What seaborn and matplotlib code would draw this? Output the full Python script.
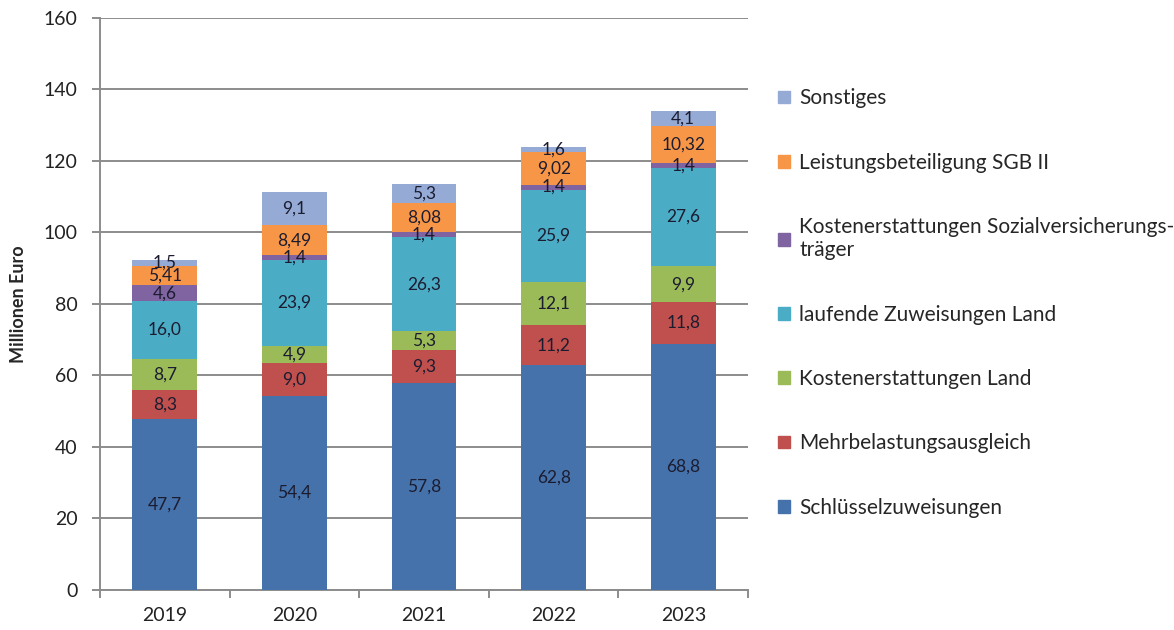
import numpy as np
import pandas as pd
import seaborn as sns
import matplotlib.pyplot as plt
import matplotlib.patches as mpatches

# Daten (Millionen Euro)
jahre = ["2019", "2020", "2021", "2022", "2023"]
kategorien = [
    "Schlüsselzuweisungen",
    "Mehrbelastungsausgleich",
    "Kostenerstattungen Land",
    "laufende Zuweisungen Land",
    "Kostenerstattungen Sozialversicherungs-\nträger",
    "Leistungsbeteiligung SGB II",
    "Sonstiges",
]
schluessel = [47.7, 54.4, 57.8, 62.8, 68.8]
mehrbelastung = [8.3, 9.0, 9.3, 11.2, 11.8]
kosten_land = [8.7, 4.9, 5.3, 12.1, 9.9]
laufend_land = [16.0, 23.9, 26.3, 25.9, 27.6]
kosten_sozial = [4.6, 1.4, 1.4, 1.4, 1.4]
sgb2 = [5.41, 8.49, 8.08, 9.02, 10.32]
sonstiges = [1.5, 9.1, 5.3, 1.6, 4.1]
nachkomma = [1, 1, 1, 1, 1, 2, 1]

farben = ["#4572AB", "#C0504D", "#9BBB59", "#4BACC6", "#8064A2", "#F79646", "#95ABD6"]

werte = [schluessel, mehrbelastung, kosten_land, laufend_land, kosten_sozial, sgb2, sonstiges]

sns.set_style("white")
plt.rcParams["font.family"] = ["Lato", "DejaVu Sans"]

fig = plt.figure(figsize=(11.74, 6.3), dpi=100)
ax = fig.add_axes([0.0852, 0.0635, 0.552, 0.908])

# Kumulierte Summen, von oben nach unten zeichnen (gestapelte Balken)
arr = np.array(werte)
kum = np.cumsum(arr, axis=0)
for i in range(len(kategorien) - 1, -1, -1):
    df = pd.DataFrame({"Jahr": jahre, "Wert": kum[i]})
    sns.barplot(data=df, x="Jahr", y="Wert", color=farben[i], width=0.5,
                saturation=1, errorbar=None, ax=ax, zorder=3, linewidth=0)

# Beschriftungen in den Segmenten
for i in range(len(kategorien)):
    for j in range(len(jahre)):
        mitte = kum[i, j] - arr[i, j] / 2
        txt = f"{arr[i, j]:.{nachkomma[i]}f}".replace(".", ",")
        ax.text(j, mitte, txt, ha="center", va="center", fontsize=12.5,
                color="#1c1c30", zorder=5)

ax.set_ylim(0, 160)
ax.set_xlim(-0.5, 4.5)
ax.set_yticks(range(0, 161, 20))
ax.yaxis.grid(True, color="#8c8c8c", linewidth=1.4, zorder=0)
ax.set_axisbelow(True)
for s in ["top", "right"]:
    ax.spines[s].set_visible(False)
for s in ["left", "bottom"]:
    ax.spines[s].set_color("#8c8c8c")
    ax.spines[s].set_linewidth(1.4)

ax.tick_params(axis="y", which="major", length=6, color="#8c8c8c", width=1.4,
               labelsize=14, pad=10, left=True, labelcolor="#222222")
ax.tick_params(axis="x", which="major", length=0, labelsize=14, pad=12,
               labelcolor="#222222")
ax.set_xticks(np.arange(-0.5, 4.6, 1), minor=True)
ax.tick_params(axis="x", which="minor", length=6, color="#8c8c8c", width=1.4,
               bottom=True)

ax.set_xlabel("")
ax.set_ylabel("Millionen Euro", fontsize=13, fontweight="bold", labelpad=12)

# Legende rechts, umgekehrte Reihenfolge
handles = [mpatches.Patch(color=farben[i], label=kategorien[i])
           for i in range(len(kategorien) - 1, -1, -1)]
fig.legend(handles=handles, loc="upper left", bbox_to_anchor=(0.656, 0.873),
           frameon=False, fontsize=15, handlelength=0.55, handleheight=0.55,
           handletextpad=0.45, labelspacing=2.13, borderaxespad=0)

fig.savefig("out.png", dpi=100)
